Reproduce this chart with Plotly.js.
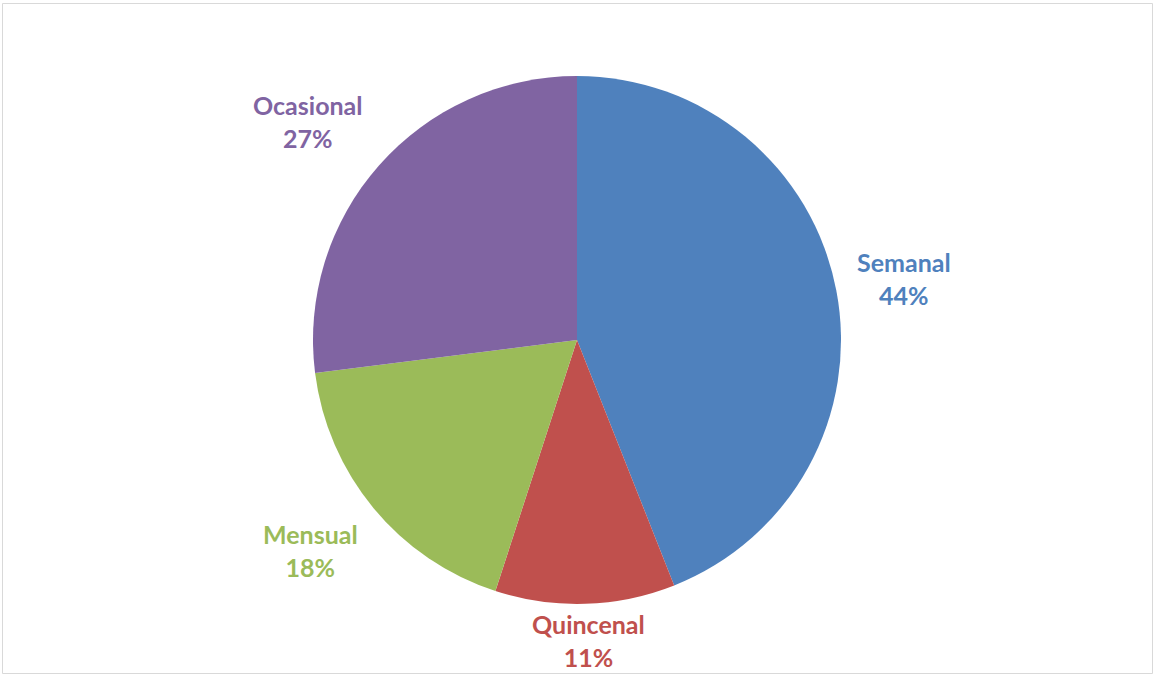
<!DOCTYPE html>
<html>
<head>
<meta charset="utf-8">
<script src="https://cdn.plot.ly/plotly-3.0.1.min.js"></script>
<style>
html,body{margin:0;padding:0;background:#fff;}
#chart{width:1154px;height:675px;}
</style>
</head>
<body>
<div id="chart"></div>
<script>
const categories = ["Semanal", "Quincenal", "Mensual", "Ocasional"];
const values = [44, 11, 18, 27];
const colors = ["#4F81BD", "#C0504D", "#9BBB59", "#8064A2"];

const W = 1154, H = 675;
const cx = 577, cy = 340, R = 265;
const FONT_SIZE = 25, FONT_FAMILY = "Lato";

const trace = {
  type: "pie",
  labels: categories,
  values: values,
  sort: false,
  direction: "clockwise",
  rotation: 0,
  marker: {colors: colors, line: {width: 0}},
  textinfo: "none",
  hoverinfo: "none",
  showlegend: false,
  domain: {x: [(cx - R - 300) / W, (cx + R + 300) / W], y: [(H - cy - R + 1) / H, (H - cy + R - 1) / H]}
};

// label placement computed from the data (mid-angle of each slice)
const ctx = document.createElement("canvas").getContext("2d");
ctx.font = "bold " + FONT_SIZE + "px " + FONT_FAMILY;
const total = values.reduce((a, b) => a + b, 0);
const clamp = (v, lo, hi) => Math.max(lo, Math.min(hi, v));
let cum = 0;
const annotations = categories.map((cat, i) => {
  const v = values[i];
  const theta = (cum + v / 2) / total * 2 * Math.PI;
  cum += v;
  const pct = Math.round(v / total * 100) + "%";
  const w = Math.max(ctx.measureText(cat).width, ctx.measureText(pct).width);
  const h = FONT_SIZE * 2.4;
  const ux = Math.sin(theta), uy = -Math.cos(theta);
  const r = R + 20;
  let px = cx + r * ux + (w / 2) * clamp(ux * 1.5, -1, 1);
  let py = cy + r * uy + (h / 2) * clamp(uy * 1.5, -1, 1);
  px = clamp(px, w / 2 + 8, W - w / 2 - 8);
  py = clamp(py, h / 2 + 6, H - h / 2 - 5);
  return {
    x: px / W, y: 1 - py / H, xref: "paper", yref: "paper",
    xanchor: "center", yanchor: "middle", showarrow: false,
    text: "<b>" + cat + "<br>" + pct + "</b>",
    font: {family: FONT_FAMILY + ", sans-serif", size: FONT_SIZE, color: colors[i]}
  };
});

const layout = {
  width: W,
  height: H,
  margin: {l: 0, r: 0, t: 0, b: 0},
  paper_bgcolor: "#ffffff",
  showlegend: false,
  annotations: annotations,
  shapes: [{
    type: "rect", xref: "paper", yref: "paper",
    x0: 2.5 / W, x1: 1152.5 / W, y0: 1 - 673.5 / H, y1: 1 - 3.5 / H,
    line: {color: "#D9D9D9", width: 1}
  }]
};

Plotly.newPlot("chart", [trace], layout, {displayModeBar: false, staticPlot: true});
</script>
</body>
</html>
